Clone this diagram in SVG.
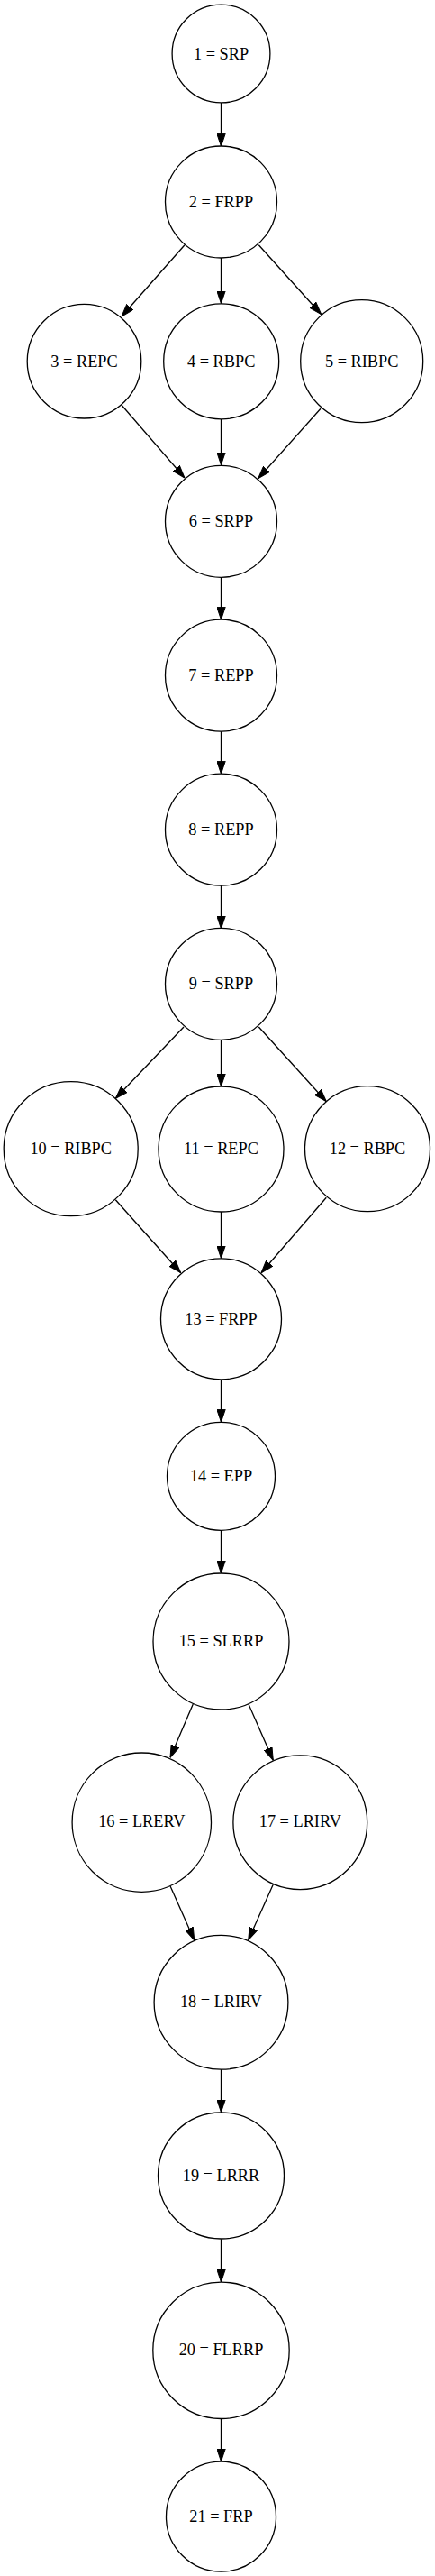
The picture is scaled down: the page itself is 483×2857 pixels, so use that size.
<svg xmlns="http://www.w3.org/2000/svg" width="483" height="2857" viewBox="0 0 483 2857">
<defs>
<marker id="arr" viewBox="0 0 14 10" refX="14" refY="5" markerWidth="14" markerHeight="10" markerUnits="userSpaceOnUse" orient="auto">
<path d="M0,0.3 L14,5 L0,9.7 z" fill="#000" stroke="#000" stroke-width="1"/>
</marker>
</defs>
<style>
.n circle{fill:#fff;stroke:#000;stroke-width:1.3}
.n text{font-family:"Liberation Serif","Times New Roman",serif;font-size:18.3px;fill:#000;text-anchor:middle}
.e path{fill:none;stroke:#000;stroke-width:1.3;marker-end:url(#arr)}
</style>
<rect width="483" height="2857" fill="#fff"/>
<g id="connectors" class="e">
<path d="M245.5,114 L245.5,162.3"/>
<path d="M205,271.7 L135,351"/>
<path d="M245.5,285.7 L245.5,336.7"/>
<path d="M287.3,271.7 L356.7,348.7"/>
<path d="M135,449.3 L205,530"/>
<path d="M245.5,465 L245.5,515.7"/>
<path d="M356,453.3 L286.7,530.7"/>
<path d="M245.5,640 L245.5,687.3"/>
<path d="M245.5,811 L245.5,858.3"/>
<path d="M245.5,982 L245.5,1030"/>
<path d="M204,1139 L128.3,1218.3"/>
<path d="M245.5,1152.7 L245.5,1205"/>
<path d="M287.3,1139 L362.3,1221.7"/>
<path d="M128.3,1330.7 L200.7,1411.7"/>
<path d="M245.5,1344 L245.5,1395.7"/>
<path d="M362.3,1328.3 L290,1411.7"/>
<path d="M245.5,1530 L245.5,1577.3"/>
<path d="M245.5,1697.3 L245.5,1745"/>
<path d="M214.3,1890 L189,1949.3"/>
<path d="M276,1890 L303.3,1952.3"/>
<path d="M189,2091.7 L215.7,2151.7"/>
<path d="M303.3,2090 L275.7,2151.7"/>
<path d="M245.5,2295 L245.5,2342.7"/>
<path d="M245.5,2483.3 L245.5,2531"/>
<path d="M245.5,2682.7 L245.5,2730"/>
</g>
<g id="node1" class="n"><circle cx="245.5" cy="59.5" r="54.4"/><text x="245.5" y="65.8">1 = SRP</text></g>
<g id="node2" class="n"><circle cx="245.5" cy="224" r="62"/><text x="245.5" y="229.6">2 = FRPP</text></g>
<g id="node3" class="n"><circle cx="93.5" cy="400.7" r="63.3"/><text x="93.5" y="406.6">3 = REPC</text></g>
<g id="node4" class="n"><circle cx="245.7" cy="400.8" r="64"/><text x="245.7" y="406.6">4 = RBPC</text></g>
<g id="node5" class="n"><circle cx="401.7" cy="400.7" r="68"/><text x="401.7" y="406.6">5 = RIBPC</text></g>
<g id="node6" class="n"><circle cx="245.5" cy="578.3" r="62"/><text x="245.5" y="584">6 = SRPP</text></g>
<g id="node7" class="n"><circle cx="245.5" cy="749.2" r="62"/><text x="245.5" y="755">7 = REPP</text></g>
<g id="node8" class="n"><circle cx="245.5" cy="920.2" r="62"/><text x="245.5" y="926">8 = REPP</text></g>
<g id="node9" class="n"><circle cx="245.5" cy="1091.3" r="62"/><text x="245.5" y="1097">9 = SRPP</text></g>
<g id="node10" class="n"><circle cx="78.7" cy="1274.2" r="74.5"/><text x="78.7" y="1280">10 = RIBPC</text></g>
<g id="node11" class="n"><circle cx="245.5" cy="1274.5" r="69.5"/><text x="245.5" y="1280">11 = REPC</text></g>
<g id="node12" class="n"><circle cx="408" cy="1274.2" r="69.5"/><text x="408" y="1280">12 = RBPC</text></g>
<g id="node13" class="n"><circle cx="245.5" cy="1462.8" r="67"/><text x="245.5" y="1468.5">13 = FRPP</text></g>
<g id="node14" class="n"><circle cx="245.5" cy="1637.3" r="60"/><text x="245.5" y="1643">14 = EPP</text></g>
<g id="node15" class="n"><circle cx="245.5" cy="1820.5" r="75.5"/><text x="245.5" y="1826.2">15 = SLRRP</text></g>
<g id="node16" class="n"><circle cx="157.3" cy="2021.2" r="77.2"/><text x="157.3" y="2026.2">16 = LRERV</text></g>
<g id="node17" class="n"><circle cx="333.3" cy="2021.2" r="74.4"/><text x="333.3" y="2026.2">17 = LRIRV</text></g>
<g id="node18" class="n"><circle cx="245.5" cy="2220.8" r="74.4"/><text x="245.5" y="2226">18 = LRIRV</text></g>
<g id="node19" class="n"><circle cx="245.5" cy="2413" r="70"/><text x="245.5" y="2419">19 = LRRR</text></g>
<g id="node20" class="n"><circle cx="245.5" cy="2606.8" r="75.7"/><text x="245.5" y="2612.3">20 = FLRRP</text></g>
<g id="node21" class="n"><circle cx="245.5" cy="2791.2" r="61"/><text x="245.5" y="2797">21 = FRP</text></g>
</svg>
